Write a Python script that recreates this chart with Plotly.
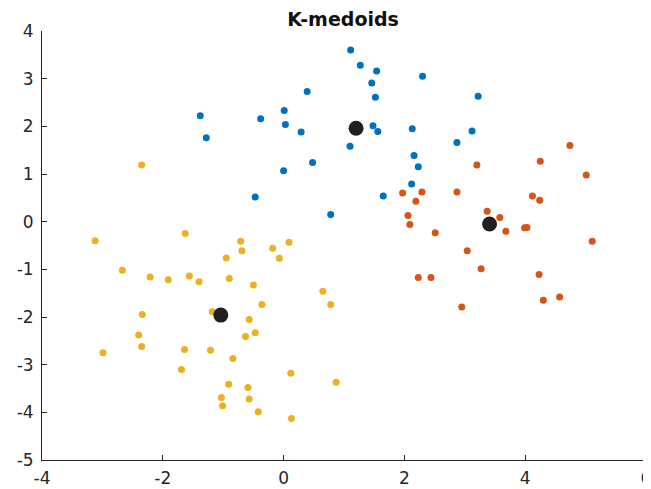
import plotly.graph_objects as go

# cluster 1 (blue)
blue_x = [-1.38, -1.28, -0.38, 0.01, 0.03, 0.39, 0.29, 0.00, 0.48, -0.47, 0.78,
          1.11, 1.27, 1.54, 1.46, 2.30, 1.52, 3.22, 1.48, 1.56, 2.13, 3.12, 2.87,
          1.10, 2.16, 2.23, 2.12, 1.65]
blue_y = [2.22, 1.76, 2.16, 2.33, 2.04, 2.73, 1.88, 1.07, 1.24, 0.52, 0.15,
          3.60, 3.28, 3.16, 2.91, 3.05, 2.61, 2.63, 2.01, 1.89, 1.95, 1.90, 1.66,
          1.58, 1.39, 1.15, 0.79, 0.54]

# cluster 2 (red)
red_x = [4.74, 4.25, 3.20, 5.01, 1.97, 2.29, 2.87, 2.19, 4.12, 4.24, 2.06, 3.37,
         3.58, 2.09, 3.68, 3.99, 4.03, 2.51, 5.11, 3.04, 3.27, 2.23, 2.44, 4.23,
         2.95, 4.30, 4.57]
red_y = [1.60, 1.27, 1.19, 0.98, 0.60, 0.62, 0.62, 0.43, 0.54, 0.45, 0.13, 0.22,
         0.09, -0.06, -0.20, -0.13, -0.12, -0.23, -0.41, -0.61, -0.99, -1.17, -1.17, -1.11,
         -1.79, -1.65, -1.58]

# cluster 3 (yellow)
yellow_x = [-2.35, -3.12, -1.63, -0.71, 0.09, -0.18, -0.69, -0.95, -0.07, -2.67,
            -2.21, -1.91, -1.56, -1.40, -0.90, -0.50, -0.36, -2.34, -1.18, -0.57,
            -0.47, -0.63, -2.40, -2.35, -2.99, -1.64, -1.21, -0.84, -1.69, 0.12,
            -0.91, -0.59, -1.03, -0.57, -1.01, -0.42, 0.13, 0.65, 0.78, 0.87]
yellow_y = [1.19, -0.40, -0.25, -0.41, -0.43, -0.56, -0.61, -0.76, -0.77, -1.02,
            -1.16, -1.22, -1.14, -1.26, -1.19, -1.33, -1.74, -1.95, -1.89, -2.05,
            -2.33, -2.41, -2.38, -2.62, -2.75, -2.68, -2.70, -2.87, -3.10, -3.18,
            -3.41, -3.48, -3.69, -3.72, -3.86, -3.99, -4.13, -1.46, -1.74, -3.37]

# medoids
medoid_x = [1.20, 3.41, -1.04]
medoid_y = [1.96, -0.05, -1.96]

x_ticks = [-4, -2, 0, 2, 4, 6]
y_ticks = [-5, -4, -3, -2, -1, 0, 1, 2, 3, 4]

AXIS_COLOR = '#262626'

fig = go.Figure()

for xs, ys, col in [(blue_x, blue_y, '#0072BD'),
                    (red_x, red_y, '#D95319'),
                    (yellow_x, yellow_y, '#EDB120')]:
    fig.add_trace(go.Scatter(
        x=xs, y=ys, mode='markers',
        marker=dict(color=col, size=7, line=dict(width=0)),
        showlegend=False
    ))

fig.add_trace(go.Scatter(
    x=medoid_x, y=medoid_y, mode='markers',
    marker=dict(color='#231f20', size=15, line=dict(width=0)),
    showlegend=False
))

# page body has an 8px margin, so keep the figure inside the window
fig.update_layout(
    width=643, height=481,
    paper_bgcolor='white', plot_bgcolor='white',
    margin=dict(l=33.5, r=4.5, t=22.7, b=29.3),
    font=dict(family='DejaVu Sans, sans-serif', size=17, color=AXIS_COLOR),
    title=dict(text='<b>K-medoids</b>', x=0.521, xanchor='center',
               y=0.977, yanchor='middle', font=dict(size=19, color='#111111')),
)

fig.update_xaxes(range=[-4, 6], tickvals=x_ticks, ticktext=[str(v) for v in x_ticks],
                 automargin=False, ticklabelstandoff=3, ticklabeloverflow='allow',
                 showline=True, linecolor=AXIS_COLOR, linewidth=1,
                 ticks='inside', ticklen=5, tickcolor=AXIS_COLOR,
                 showgrid=False, zeroline=False)
fig.update_yaxes(range=[-5, 4], tickvals=y_ticks, ticktext=[str(v) for v in y_ticks],
                 automargin=False, ticklabelstandoff=4, ticklabeloverflow='allow',
                 showline=True, linecolor=AXIS_COLOR, linewidth=1,
                 ticks='inside', ticklen=5, tickcolor=AXIS_COLOR,
                 showgrid=False, zeroline=False)

fig.write_html("out.html")
